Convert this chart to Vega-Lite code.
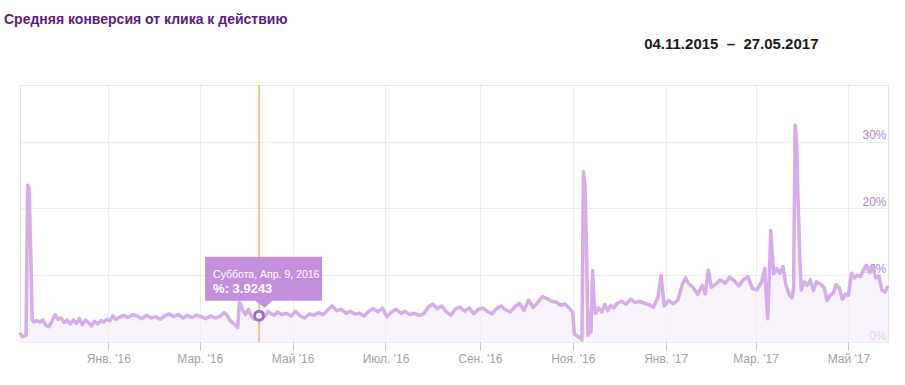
{
  "$schema": "https://vega.github.io/schema/vega-lite/v6.json",
  "width": 868,
  "height": 257,
  "autosize": "none",
  "padding": {"left": 20, "top": 85, "right": 17, "bottom": 43},
  "background": "white",
  "title": {
    "text": "Средняя конверсия от клика к действию",
    "anchor": "start",
    "frame": "group",
    "font": "Liberation Sans",
    "fontSize": 14,
    "fontWeight": "bold",
    "color": "#5b1b7e",
    "dx": -16,
    "offset": 9
  },
  "config": {
    "locale": {
      "time": {
        "dateTime": "%A, %e %B %Y г. %X",
        "date": "%d.%m.%Y",
        "time": "%H:%M:%S",
        "periods": ["AM", "PM"],
        "days": ["Воскресенье", "Понедельник", "Вторник", "Среда", "Четверг", "Пятница", "Суббота"],
        "shortDays": ["вс", "пн", "вт", "ср", "чт", "пт", "сб"],
        "months": ["Январь", "Февраль", "Март", "Апрель", "Май", "Июнь", "Июль", "Август", "Сентябрь", "Октябрь", "Ноябрь", "Декабрь"],
        "shortMonths": ["Янв.", "Фев.", "Мар.", "Апр.", "Май", "Июн.", "Июл.", "Авг.", "Сен.", "Окт.", "Ноя.", "Дек."]
      }
    },
    "view": {"stroke": "#e6e6e6"},
    "axis": {"gridColor": "#ececec", "labelFont": "Liberation Sans", "titleFont": "Liberation Sans"}
  },
  "datasets": {
    "conv": [
      {"date": "2015-11-04", "value": 1.4}, {"date": "2015-11-05", "value": 1.0}, {"date": "2015-11-06", "value": 0.8},
      {"date": "2015-11-07", "value": 0.9}, {"date": "2015-11-08", "value": 1.0}, {"date": "2015-11-09", "value": 23.5},
      {"date": "2015-11-10", "value": 23.0}, {"date": "2015-11-11", "value": 14.0}, {"date": "2015-11-12", "value": 3.3},
      {"date": "2015-11-13", "value": 3.0}, {"date": "2015-11-15", "value": 3.2}, {"date": "2015-11-17", "value": 3.0},
      {"date": "2015-11-19", "value": 3.3}, {"date": "2015-11-21", "value": 2.5}, {"date": "2015-11-23", "value": 2.3},
      {"date": "2015-11-25", "value": 3.1}, {"date": "2015-11-27", "value": 4.1}, {"date": "2015-11-29", "value": 3.4},
      {"date": "2015-12-01", "value": 3.6}, {"date": "2015-12-03", "value": 2.9}, {"date": "2015-12-05", "value": 3.3},
      {"date": "2015-12-07", "value": 2.7}, {"date": "2015-12-09", "value": 3.3}, {"date": "2015-12-11", "value": 2.8},
      {"date": "2015-12-13", "value": 3.5}, {"date": "2015-12-15", "value": 2.6}, {"date": "2015-12-17", "value": 3.3},
      {"date": "2015-12-19", "value": 2.9}, {"date": "2015-12-21", "value": 2.4}, {"date": "2015-12-23", "value": 3.1},
      {"date": "2015-12-25", "value": 2.7}, {"date": "2015-12-27", "value": 3.2}, {"date": "2015-12-29", "value": 3.0},
      {"date": "2015-12-31", "value": 3.4}, {"date": "2016-01-02", "value": 3.2}, {"date": "2016-01-04", "value": 3.9},
      {"date": "2016-01-06", "value": 3.4}, {"date": "2016-01-08", "value": 3.7}, {"date": "2016-01-11", "value": 4.0},
      {"date": "2016-01-14", "value": 3.7}, {"date": "2016-01-17", "value": 4.1}, {"date": "2016-01-20", "value": 3.9},
      {"date": "2016-01-23", "value": 3.5}, {"date": "2016-01-26", "value": 4.0}, {"date": "2016-01-29", "value": 3.6},
      {"date": "2016-02-01", "value": 3.8}, {"date": "2016-02-04", "value": 3.4}, {"date": "2016-02-07", "value": 3.9},
      {"date": "2016-02-10", "value": 4.2}, {"date": "2016-02-13", "value": 3.8}, {"date": "2016-02-16", "value": 4.1},
      {"date": "2016-02-19", "value": 3.6}, {"date": "2016-02-22", "value": 4.0}, {"date": "2016-02-25", "value": 3.7},
      {"date": "2016-02-28", "value": 4.0}, {"date": "2016-03-02", "value": 3.8}, {"date": "2016-03-05", "value": 3.5},
      {"date": "2016-03-08", "value": 3.9}, {"date": "2016-03-11", "value": 3.6}, {"date": "2016-03-14", "value": 3.8},
      {"date": "2016-03-17", "value": 4.4}, {"date": "2016-03-19", "value": 4.0}, {"date": "2016-03-21", "value": 3.2},
      {"date": "2016-03-24", "value": 2.6}, {"date": "2016-03-26", "value": 2.2}, {"date": "2016-03-27", "value": 5.9},
      {"date": "2016-03-28", "value": 5.6}, {"date": "2016-03-29", "value": 4.9}, {"date": "2016-03-31", "value": 4.1},
      {"date": "2016-04-02", "value": 4.9}, {"date": "2016-04-04", "value": 3.8}, {"date": "2016-04-06", "value": 3.4},
      {"date": "2016-04-08", "value": 3.6}, {"date": "2016-04-09", "value": 3.9243}, {"date": "2016-04-11", "value": 4.4},
      {"date": "2016-04-13", "value": 3.9}, {"date": "2016-04-15", "value": 4.6}, {"date": "2016-04-17", "value": 4.2},
      {"date": "2016-04-19", "value": 4.0}, {"date": "2016-04-21", "value": 4.5}, {"date": "2016-04-24", "value": 4.1},
      {"date": "2016-04-27", "value": 4.3}, {"date": "2016-04-30", "value": 3.9}, {"date": "2016-05-03", "value": 4.6},
      {"date": "2016-05-06", "value": 3.9}, {"date": "2016-05-09", "value": 3.6}, {"date": "2016-05-12", "value": 4.2},
      {"date": "2016-05-15", "value": 4.0}, {"date": "2016-05-18", "value": 4.4}, {"date": "2016-05-21", "value": 4.1},
      {"date": "2016-05-24", "value": 4.8}, {"date": "2016-05-27", "value": 5.4}, {"date": "2016-05-30", "value": 4.7},
      {"date": "2016-06-02", "value": 4.9}, {"date": "2016-06-05", "value": 4.3}, {"date": "2016-06-08", "value": 4.6},
      {"date": "2016-06-11", "value": 4.2}, {"date": "2016-06-14", "value": 4.3}, {"date": "2016-06-17", "value": 3.9},
      {"date": "2016-06-20", "value": 4.6}, {"date": "2016-06-23", "value": 5.0}, {"date": "2016-06-26", "value": 4.5},
      {"date": "2016-06-29", "value": 5.1}, {"date": "2016-07-02", "value": 3.8}, {"date": "2016-07-05", "value": 4.5},
      {"date": "2016-07-08", "value": 4.9}, {"date": "2016-07-11", "value": 4.3}, {"date": "2016-07-14", "value": 4.6},
      {"date": "2016-07-17", "value": 4.1}, {"date": "2016-07-20", "value": 4.3}, {"date": "2016-07-23", "value": 4.0},
      {"date": "2016-07-26", "value": 4.2}, {"date": "2016-07-29", "value": 5.2}, {"date": "2016-08-01", "value": 5.7},
      {"date": "2016-08-04", "value": 5.0}, {"date": "2016-08-07", "value": 5.4}, {"date": "2016-08-10", "value": 4.5},
      {"date": "2016-08-13", "value": 4.0}, {"date": "2016-08-16", "value": 5.0}, {"date": "2016-08-19", "value": 5.2},
      {"date": "2016-08-22", "value": 4.6}, {"date": "2016-08-25", "value": 5.1}, {"date": "2016-08-28", "value": 4.2},
      {"date": "2016-08-31", "value": 4.9}, {"date": "2016-09-03", "value": 5.1}, {"date": "2016-09-06", "value": 4.6},
      {"date": "2016-09-09", "value": 4.2}, {"date": "2016-09-12", "value": 5.0}, {"date": "2016-09-15", "value": 5.4},
      {"date": "2016-09-18", "value": 4.8}, {"date": "2016-09-21", "value": 4.5}, {"date": "2016-09-24", "value": 5.3},
      {"date": "2016-09-27", "value": 5.8}, {"date": "2016-09-30", "value": 4.7}, {"date": "2016-10-03", "value": 6.3},
      {"date": "2016-10-06", "value": 5.2}, {"date": "2016-10-09", "value": 5.9}, {"date": "2016-10-12", "value": 6.8},
      {"date": "2016-10-15", "value": 6.5}, {"date": "2016-10-18", "value": 6.1}, {"date": "2016-10-21", "value": 6.0},
      {"date": "2016-10-24", "value": 5.5}, {"date": "2016-10-27", "value": 5.7}, {"date": "2016-10-30", "value": 5.0},
      {"date": "2016-11-01", "value": 4.4}, {"date": "2016-11-02", "value": 1.2}, {"date": "2016-11-04", "value": 0.9},
      {"date": "2016-11-06", "value": 0.6}, {"date": "2016-11-07", "value": 0.3}, {"date": "2016-11-08", "value": 25.5},
      {"date": "2016-11-09", "value": 23.5}, {"date": "2016-11-10", "value": 14.0}, {"date": "2016-11-11", "value": 1.0},
      {"date": "2016-11-12", "value": 4.5}, {"date": "2016-11-13", "value": 1.5}, {"date": "2016-11-14", "value": 10.7},
      {"date": "2016-11-15", "value": 6.0}, {"date": "2016-11-16", "value": 4.3}, {"date": "2016-11-18", "value": 5.1},
      {"date": "2016-11-20", "value": 4.5}, {"date": "2016-11-22", "value": 5.6}, {"date": "2016-11-24", "value": 4.7},
      {"date": "2016-11-26", "value": 5.5}, {"date": "2016-11-28", "value": 5.1}, {"date": "2016-11-30", "value": 5.8},
      {"date": "2016-12-03", "value": 6.1}, {"date": "2016-12-06", "value": 5.7}, {"date": "2016-12-09", "value": 6.4},
      {"date": "2016-12-12", "value": 5.9}, {"date": "2016-12-15", "value": 6.1}, {"date": "2016-12-18", "value": 5.8},
      {"date": "2016-12-21", "value": 5.6}, {"date": "2016-12-24", "value": 5.2}, {"date": "2016-12-27", "value": 6.8},
      {"date": "2016-12-29", "value": 10.0}, {"date": "2016-12-31", "value": 5.4}, {"date": "2017-01-03", "value": 6.2},
      {"date": "2017-01-06", "value": 5.7}, {"date": "2017-01-09", "value": 6.3}, {"date": "2017-01-12", "value": 8.7},
      {"date": "2017-01-14", "value": 9.6}, {"date": "2017-01-16", "value": 8.8}, {"date": "2017-01-19", "value": 8.2},
      {"date": "2017-01-22", "value": 7.1}, {"date": "2017-01-25", "value": 8.5}, {"date": "2017-01-27", "value": 7.2},
      {"date": "2017-01-29", "value": 10.8}, {"date": "2017-01-31", "value": 8.2}, {"date": "2017-02-03", "value": 8.7},
      {"date": "2017-02-06", "value": 9.3}, {"date": "2017-02-09", "value": 8.8}, {"date": "2017-02-12", "value": 9.7},
      {"date": "2017-02-15", "value": 9.2}, {"date": "2017-02-18", "value": 8.4}, {"date": "2017-02-21", "value": 9.3},
      {"date": "2017-02-24", "value": 9.8}, {"date": "2017-02-27", "value": 8.0}, {"date": "2017-03-02", "value": 7.8},
      {"date": "2017-03-05", "value": 9.0}, {"date": "2017-03-07", "value": 11.0}, {"date": "2017-03-09", "value": 3.5},
      {"date": "2017-03-10", "value": 9.5}, {"date": "2017-03-11", "value": 16.7}, {"date": "2017-03-12", "value": 13.0},
      {"date": "2017-03-13", "value": 10.2}, {"date": "2017-03-15", "value": 11.0}, {"date": "2017-03-17", "value": 10.3},
      {"date": "2017-03-19", "value": 11.3}, {"date": "2017-03-21", "value": 8.5}, {"date": "2017-03-23", "value": 7.2},
      {"date": "2017-03-25", "value": 6.6}, {"date": "2017-03-26", "value": 8.0}, {"date": "2017-03-27", "value": 32.5},
      {"date": "2017-03-28", "value": 30.0}, {"date": "2017-03-29", "value": 21.0}, {"date": "2017-03-30", "value": 13.0},
      {"date": "2017-03-31", "value": 7.8}, {"date": "2017-04-02", "value": 9.0}, {"date": "2017-04-04", "value": 8.5},
      {"date": "2017-04-06", "value": 9.3}, {"date": "2017-04-08", "value": 7.7}, {"date": "2017-04-10", "value": 9.0},
      {"date": "2017-04-13", "value": 8.6}, {"date": "2017-04-15", "value": 8.2}, {"date": "2017-04-17", "value": 6.2},
      {"date": "2017-04-19", "value": 7.0}, {"date": "2017-04-21", "value": 7.3}, {"date": "2017-04-23", "value": 8.6},
      {"date": "2017-04-25", "value": 8.1}, {"date": "2017-04-27", "value": 6.4}, {"date": "2017-04-29", "value": 7.2},
      {"date": "2017-05-01", "value": 7.0}, {"date": "2017-05-03", "value": 10.3}, {"date": "2017-05-05", "value": 9.6},
      {"date": "2017-05-07", "value": 10.0}, {"date": "2017-05-09", "value": 9.8}, {"date": "2017-05-11", "value": 10.9},
      {"date": "2017-05-13", "value": 11.5}, {"date": "2017-05-15", "value": 10.4}, {"date": "2017-05-17", "value": 11.2},
      {"date": "2017-05-19", "value": 9.6}, {"date": "2017-05-21", "value": 9.9}, {"date": "2017-05-23", "value": 7.8},
      {"date": "2017-05-25", "value": 7.5}, {"date": "2017-05-27", "value": 8.4}
    ],
    "hover": [
      {"date": "2016-04-09", "value": 3.9243, "day": "Суббота, Апр. 9, 2016", "pct": "%: 3.9243"}
    ]
  },
  "resolve": {"axis": {"x": "independent"}},
  "layer": [
    {
      "data": {"name": "conv"},
      "mark": {
        "type": "area",
        "color": "#f6eefa",
        "line": {"color": "#d4adea", "strokeWidth": 3.5, "strokeJoin": "round"}
      },
      "encoding": {
        "x": {
          "field": "date", "type": "temporal",
          "scale": {"domain": ["2015-11-04", "2017-05-27"]},
          "axis": {
            "title": null, "format": "%b '%y",
            "tickCount": {"interval": "month", "step": 2},
            "labelColor": "#a3a3a3", "labelFontSize": 12, "labelPadding": 3,
            "tickColor": "#c8c8c8", "tickSize": 8,
            "domain": false, "grid": true
          }
        },
        "y": {
          "field": "value", "type": "quantitative",
          "scale": {"domain": [0, 38.5], "nice": false},
          "axis": {
            "title": null, "orient": "right", "values": [0, 10, 20, 30],
            "labelExpr": "datum.value + '%'",
            "labelColor": "#b083d6", "labelFontSize": 12,
            "labelAlign": "right", "labelPadding": -2,
            "labelBaseline": "alphabetic", "labelOffset": -3,
            "ticks": false, "domain": false, "grid": true
          }
        }
      }
    },
    {
      "data": {"name": "hover"},
      "mark": {"type": "rule", "color": "#f2a83a", "strokeWidth": 1.2},
      "encoding": {
        "x": {
          "field": "date", "type": "temporal",
          "axis": {
            "orient": "top", "labels": false, "ticks": false, "domain": false, "grid": false,
            "title": "04.11.2015\u00a0\u00a0–\u00a0\u00a027.05.2017",
            "titleFont": "Liberation Sans", "titleFontSize": 15, "titleFontWeight": "bold",
            "titleColor": "#1a1a1a", "titlePadding": 34,
            "titleX": 798, "titleAlign": "right", "titleAnchor": "end"
          }
        }
      }
    },
    {
      "data": {"name": "hover"},
      "mark": {
        "type": "point", "filled": true, "opacity": 1, "color": "#c490de", "size": 14400,
        "shape": "M-0.9,-0.983L1.05,-0.983L1.05,-0.25L0.217,-0.25L0.1,-0.133L-0.067,-0.25L-0.9,-0.25Z"
      },
      "encoding": {
        "x": {"field": "date", "type": "temporal", "axis": null},
        "y": {"field": "value", "type": "quantitative"}
      }
    },
    {
      "data": {"name": "hover"},
      "mark": {"type": "point", "shape": "circle", "filled": false, "fill": "white", "stroke": "#9e6cc8", "strokeWidth": 3, "size": 80, "opacity": 1},
      "encoding": {
        "x": {"field": "date", "type": "temporal", "axis": null},
        "y": {"field": "value", "type": "quantitative"}
      }
    },
    {
      "data": {"name": "hover"},
      "mark": {"type": "text", "align": "left", "baseline": "alphabetic", "dx": -46, "dy": -38, "color": "white", "font": "Liberation Sans", "fontSize": 10.5},
      "encoding": {
        "x": {"field": "date", "type": "temporal", "axis": null},
        "y": {"field": "value", "type": "quantitative"},
        "text": {"field": "day"}
      }
    },
    {
      "data": {"name": "hover"},
      "mark": {"type": "text", "align": "left", "baseline": "alphabetic", "dx": -46, "dy": -23, "color": "white", "font": "Liberation Sans", "fontSize": 13, "fontWeight": "bold"},
      "encoding": {
        "x": {"field": "date", "type": "temporal", "axis": null},
        "y": {"field": "value", "type": "quantitative"},
        "text": {"field": "pct"}
      }
    }
  ]
}
